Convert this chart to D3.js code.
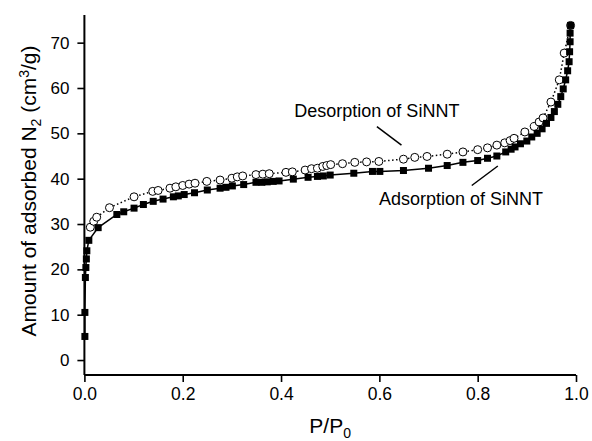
<!DOCTYPE html>
<html>
<head>
<meta charset="utf-8">
<script src="https://cdn.jsdelivr.net/npm/d3@7"></script>
<style>
  html, body { margin: 0; padding: 0; background: #fff; }
  svg { display: block; }
  text { font-family: "Liberation Sans", Arial, sans-serif; fill: #000; }
</style>
</head>
<body>
<svg id="chart" width="592" height="441"></svg>
<script>
// ---- data ----
const adsP = [0.001,0.001,0.002,0.003,0.004,0.005,0.009,0.028,0.066,0.080,0.101,0.120,0.140,0.160,0.181,0.191,0.203,0.224,0.250,0.276,0.288,0.301,0.324,0.349,0.361,0.372,0.384,0.396,0.425,0.455,0.474,0.486,0.500,0.548,0.586,0.601,0.649,0.700,0.738,0.770,0.800,0.820,0.839,0.857,0.868,0.876,0.887,0.900,0.910,0.921,0.931,0.940,0.949,0.956,0.963,0.969,0.974,0.979,0.983,0.986,0.987,0.988,0.988,0.989];
const adsV = [5.2,10.5,18.2,20.4,22.3,24.1,26.4,29.2,32.1,32.7,33.5,34.3,35.0,35.5,36.0,36.2,36.5,36.9,37.5,37.9,38.1,38.4,38.7,39.2,39.2,39.3,39.4,39.5,39.9,40.3,40.5,40.6,40.8,41.2,41.6,41.6,41.8,42.3,42.9,43.6,44.0,44.5,45.0,45.9,46.5,47.0,47.7,48.3,49.2,50.0,51.0,52.2,53.5,54.8,56.4,58.1,59.8,61.8,63.8,65.8,68.0,70.2,72.1,73.8];
const desP = [0.012,0.019,0.025,0.051,0.101,0.139,0.150,0.174,0.186,0.200,0.213,0.225,0.249,0.276,0.300,0.311,0.322,0.349,0.363,0.376,0.410,0.423,0.449,0.462,0.474,0.485,0.493,0.501,0.525,0.550,0.574,0.599,0.649,0.672,0.697,0.738,0.770,0.800,0.820,0.839,0.855,0.866,0.874,0.896,0.915,0.925,0.933,0.949,0.966,0.976,0.989];
const desV = [29.3,30.6,31.5,33.6,36.0,37.2,37.4,37.9,38.2,38.5,38.8,39.0,39.4,39.7,40.1,40.4,40.6,40.9,41.0,41.1,41.4,41.5,41.9,42.2,42.3,42.7,42.9,43.1,43.3,43.6,43.7,43.8,44.3,44.7,44.9,45.4,45.9,46.4,46.8,47.4,47.9,48.4,48.9,50.3,51.5,52.5,53.4,56.9,61.8,67.7,73.8];
const xTicks = [0, 0.2, 0.4, 0.6, 0.8, 1.0];
const xMinorTicks = d3.range(0, 1.0001, 0.05);
const yTicks = [0, 10, 20, 30, 40, 50, 60, 70];
const desLabel = "Desorption of SiNNT";
const adsLabel = "Adsorption of SiNNT";

// ---- layout ----
const svg = d3.select("#chart");
const x = d3.scaleLinear().domain([0, 1]).range([84.4, 576]);
const y = d3.scaleLinear().domain([-3.3, 76.1]).range([375, 15]);

const ads = adsP.map((p, i) => ({ p, v: adsV[i] }));
const des = desP.map((p, i) => ({ p, v: desV[i] }));

// axes
const xAxisG = svg.append("g").attr("transform", `translate(0,${y.range()[0]})`);
xAxisG.call(d3.axisBottom(x).tickValues(xMinorTicks).tickSize(4).tickFormat(""))
  .call(g => g.select(".domain").remove());
xAxisG.call(d3.axisBottom(x).tickValues(xTicks).tickSize(7).tickPadding(6).tickFormat(d3.format(".1f")))
  .call(g => g.selectAll("text").attr("font-size", 17.5).attr("font-family", "Liberation Sans, Arial, sans-serif"));
xAxisG.selectAll("line").attr("stroke", "#000").attr("stroke-width", 1.6);
xAxisG.selectAll(".domain").attr("d", `M${x.range()[0]},0H${x.range()[1]}`).attr("stroke", "#000").attr("stroke-width", 2);

const yAxisG = svg.append("g").attr("transform", `translate(${x.range()[0]},0)`);
yAxisG.call(d3.axisLeft(y).tickValues(yTicks).tickSize(7).tickPadding(8))
  .call(g => g.selectAll("text").attr("font-size", 17).attr("font-family", "Liberation Sans, Arial, sans-serif"));
yAxisG.selectAll("line").attr("stroke", "#000").attr("stroke-width", 1.6);
yAxisG.select(".domain").attr("d", `M0,${y.range()[1]}V${y.range()[0]}`).attr("stroke", "#000").attr("stroke-width", 2);

// axis titles
const xt = svg.append("text").attr("x", (x.range()[0] + x.range()[1]) / 2).attr("y", 433)
  .attr("text-anchor", "middle").attr("font-size", 21);
xt.append("tspan").text("P/P");
xt.append("tspan").attr("font-size", 14).attr("dy", 5).text("0");

const yt = svg.append("text").attr("transform", `translate(36,${(y.range()[0] + y.range()[1]) / 2 - 4}) rotate(-90)`)
  .attr("text-anchor", "middle").attr("font-size", 21);
yt.append("tspan").text("Amount of adsorbed N");
yt.append("tspan").attr("font-size", 14).attr("dy", 5).text("2");
yt.append("tspan").attr("dy", -5).text(" (cm");
yt.append("tspan").attr("font-size", 14).attr("dy", -7).text("3");
yt.append("tspan").attr("dy", 7).text("/g)");

// lines
const line = d3.line().x(d => x(d.p)).y(d => y(d.v));
svg.append("path").datum(des).attr("d", line).attr("fill", "none")
  .attr("stroke", "#000").attr("stroke-width", 1.5).attr("stroke-dasharray", "1.5,2.5");
svg.append("path").datum(ads).attr("d", line).attr("fill", "none")
  .attr("stroke", "#000").attr("stroke-width", 1.5);

// markers
svg.append("g").selectAll("circle").data(des).join("circle")
  .attr("cx", d => x(d.p)).attr("cy", d => y(d.v)).attr("r", 4)
  .attr("fill", "#fff").attr("stroke", "#000").attr("stroke-width", 1);
svg.append("g").selectAll("rect").data(ads).join("rect")
  .attr("x", d => x(d.p) - 3.5).attr("y", d => y(d.v) - 3.5)
  .attr("width", 7).attr("height", 7).attr("fill", "#000");

// annotations
svg.append("text").attr("x", x(0.427)).attr("y", y(53.7)).attr("font-size", 18).text(desLabel);
svg.append("line").attr("x1", x(0.595)).attr("y1", y(51.5)).attr("x2", x(0.645)).attr("y2", y(47.4))
  .attr("stroke", "#000").attr("stroke-width", 1.5);
svg.append("text").attr("x", x(0.933)).attr("y", y(34.2)).attr("text-anchor", "end").attr("font-size", 18).text(adsLabel);
svg.append("line").attr("x1", x(0.841)).attr("y1", y(42.8)).attr("x2", x(0.788)).attr("y2", y(38.5))
  .attr("stroke", "#000").attr("stroke-width", 1.5);
</script>
</body>
</html>
